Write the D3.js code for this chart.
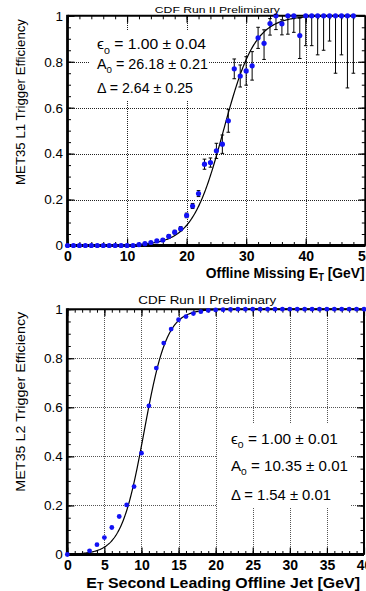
<!DOCTYPE html>
<html>
<head>
<meta charset="utf-8">
<script src="https://cdn.jsdelivr.net/npm/d3@7"></script>
<style>
  html, body { margin: 0; padding: 0; background: #fff; }
  svg { display: block; font-family: "Liberation Sans", Arial, Helvetica, sans-serif; }
  text { white-space: pre; }
</style>
</head>
<body>
<svg id="chart" width="366" height="591"></svg>
<script>
// ---- L1 panel: efficiency vs offline missing ET ----
const l1Et = [0, 1, 2, 3, 4, 5, 6, 7, 8, 9, 10, 11, 12, 13, 14, 15, 16, 17, 18, 19, 20, 21, 22, 23, 24,
  25, 26, 27, 28, 29, 30, 31, 32, 33, 34, 35, 36, 37, 38, 39, 40, 41, 42, 43, 44, 45, 46, 47, 48];
const l1Eff = [0, 0, 0, 0, 0, 0, 0, 0, 0, 0, 0, 0, 0.004, 0.008, 0.013, 0.02, 0.024, 0.04, 0.058, 0.073,
  0.131, 0.172, 0.226, 0.354, 0.361, 0.412, 0.441, 0.543, 0.769, 0.738, 0.76, 0.782, 0.904, 0.88, 0.966,
  1, 0.965, 1, 1, 0.914, 1, 1, 1, 1, 1, 1, 1, 1, 1];
const l1ErrLo = [0, 0, 0, 0, 0, 0, 0, 0, 0, 0, 0, 0, 0.002, 0.003, 0.004, 0.005, 0.006, 0.007, 0.008, 0.009,
  0.01, 0.011, 0.013, 0.022, 0.02, 0.033, 0.04, 0.05, 0.043, 0.048, 0.062, 0.062, 0.046, 0.07, 0.05,
  0.06, 0.048, 0.08, 0.072, 0.1, 0.13, 0.13, 0.17, 0.15, 0.11, 0.25, 0.17, 0.314, 0.25];
const l1ErrHi = [0, 0, 0, 0, 0, 0, 0, 0, 0, 0, 0, 0, 0.002, 0.003, 0.004, 0.005, 0.006, 0.007, 0.008, 0.009,
  0.01, 0.011, 0.013, 0.022, 0.02, 0.033, 0.04, 0.05, 0.043, 0.048, 0.062, 0.062, 0.046, 0.059, 0.022,
  0, 0.018, 0, 0, 0.076, 0, 0, 0, 0, 0, 0, 0, 0, 0];
// fit parameters: eps0, A0, Delta
const l1Fit = [1.00, 26.18, 2.64];
const l1FitText = [['1.00', '0.04'], ['26.18', '0.21'], ['2.64', '0.25']];

// ---- L2 panel: efficiency vs ET of second leading offline jet ----
const l2Et = [0, 3, 4, 5, 6, 7, 8, 9, 10, 11, 12, 13, 14, 15, 16, 17, 18, 19, 20, 21, 22, 23, 24, 25,
  26, 27, 28, 29, 30, 31, 32, 33, 34, 35, 36, 37, 38, 39, 40];
const l2Eff = [0, 0.015, 0.04, 0.069, 0.11, 0.155, 0.202, 0.277, 0.413, 0.606, 0.76, 0.862, 0.919, 0.957,
  0.97, 0.982, 0.99, 0.995, 0.997, 0.998, 0.999, 1, 1, 1, 1, 1, 1, 1, 1, 1, 1, 1, 1, 1, 1, 1, 1, 1, 1];
const l2Fit = [1.00, 10.35, 1.54];
const l2FitText = [['1.00', '0.01'], ['10.35', '0.01'], ['1.54', '0.01']];

const yTicks = [0, 0.2, 0.4, 0.6, 0.8, 1];
const yGrid = [0.2, 0.4, 0.6, 0.8];
const l1XTicks = [0, 10, 20, 30, 40, 50];
const l1XGrid = [10, 20, 30, 40];
const l2XTicks = [0, 5, 10, 15, 20, 25, 30, 35, 40];
const l2XGrid = [5, 10, 15, 20, 25, 30, 35];

const svg = d3.select('#chart');

function addText(parent, o) {
  const t = parent.append('text')
    .attr('text-anchor', o.anchor || 'start')
    .attr('font-size', o.size)
    .attr('font-weight', o.weight || 'normal')
    .attr('fill', '#000');
  const shift = o.subShift || 0.3;
  o.parts.forEach(([s, sub], i) => {
    const prevSub = i > 0 && o.parts[i - 1][1];
    t.append('tspan')
      .attr('dy', sub ? o.size * shift : (prevSub ? -o.size * shift : 0))
      .attr('font-size', sub ? o.size * 0.68 : null)
      .text(s);
  });
  let k = 1;
  if (o.width) k = o.width / t.node().getComputedTextLength();
  t.attr('transform', `translate(${o.x},${o.y})` + (o.rotate ? ` rotate(${o.rotate})` : '') + ` scale(${k},1)`);
  return t;
}

function drawPanel(p) {
  const x = d3.scaleLinear().domain(p.xDomain).range([p.left, p.right]);
  const y = d3.scaleLinear().domain([0, 1]).range([p.bottom, p.top]);
  const w = p.right - p.left;
  const h = p.bottom - p.top;
  const g = svg.append('g');

  // Grid lines
  g.append('g')
    .attr('transform', `translate(0,${p.bottom})`)
    .call(d3.axisBottom(x).tickValues(p.xGrid).tickSize(-h).tickFormat(''))
    .call(s => s.select('.domain').remove())
    .selectAll('line')
    .attr('stroke', p.gridColor)
    .attr('shape-rendering', 'crispEdges')
    .attr('stroke-dasharray', '1,1');
  g.append('g')
    .attr('transform', `translate(${p.left},0)`)
    .call(d3.axisLeft(y).tickValues(yGrid).tickSize(-w).tickFormat(''))
    .call(s => s.select('.domain').remove())
    .selectAll('line')
    .attr('stroke', p.gridColor)
    .attr('shape-rendering', 'crispEdges')
    .attr('stroke-dasharray', '1,1');

  // Fit result box
  g.append('rect')
    .attr('x', p.box[0]).attr('y', p.box[1])
    .attr('width', p.box[2]).attr('height', p.box[3])
    .attr('fill', '#fff');

  // Ticks on all four sides, pointing inward
  const sides = [
    [d3.axisBottom(x), `translate(0,${p.bottom})`, x.ticks(p.xMinorCount), p.xTicks],
    [d3.axisTop(x), `translate(0,${p.top})`, x.ticks(p.xMinorCount), p.xTicks],
    [d3.axisLeft(y), `translate(${p.left},0)`, y.ticks(20), yTicks],
    [d3.axisRight(y), `translate(${p.right},0)`, y.ticks(20), yTicks]
  ];
  sides.forEach(([axis, tr, minor, major]) => {
    g.append('g').attr('transform', tr)
      .call(axis.tickValues(minor).tickSize(-3.5).tickFormat(''))
      .call(s => s.select('.domain').remove())
      .selectAll('line').attr('stroke', '#000');
    g.append('g').attr('transform', tr)
      .call(axis.tickValues(major).tickSize(-7).tickFormat(''))
      .call(s => s.select('.domain').remove())
      .selectAll('line').attr('stroke', '#000').attr('stroke-width', 1.2);
  });

  // Frame
  g.append('line').attr('x1', p.left).attr('x2', p.right).attr('y1', p.top).attr('y2', p.top)
    .attr('stroke', '#000').attr('stroke-width', 2);
  g.append('line').attr('x1', p.right).attr('x2', p.right).attr('y1', p.top).attr('y2', p.bottom)
    .attr('stroke', '#000').attr('stroke-width', 2);
  g.append('line').attr('x1', p.left).attr('x2', p.left).attr('y1', p.top - 1).attr('y2', p.bottom + 1.5)
    .attr('stroke', '#000').attr('stroke-width', 2.8);
  g.append('line').attr('x1', p.left).attr('x2', p.right).attr('y1', p.bottom).attr('y2', p.bottom)
    .attr('stroke', '#000').attr('stroke-width', 2.8);

  // Tick labels
  g.append('g')
    .attr('transform', `translate(${p.left},0)`)
    .call(d3.axisLeft(y).tickValues(yTicks).tickSize(0).tickPadding(4.5).tickFormat(d3.format('~g')))
    .call(s => s.select('.domain').remove())
    .selectAll('text')
    .attr('font-size', 13.5)
    .attr('font-family', null)
    .attr('fill', '#000');
  g.append('g')
    .attr('transform', `translate(0,${p.bottom})`)
    .call(d3.axisBottom(x).tickValues(p.xTicks).tickSize(0).tickPadding(p.xPad))
    .call(s => s.select('.domain').remove())
    .selectAll('text')
    .attr('font-size', p.xTickSize)
    .attr('font-weight', 'bold')
    .attr('font-family', null)
    .attr('fill', '#000');

  // Fit curve
  const [eps0, a0, delta] = p.fit;
  const xs = d3.range(p.xDomain[0], p.xDomain[1] + 0.01, 0.1);
  g.append('path')
    .datum(xs)
    .attr('fill', 'none')
    .attr('stroke', '#000')
    .attr('stroke-width', 1.2)
    .attr('d', d3.line()
      .x(d => x(d))
      .y(d => y(eps0 / (1 + Math.exp(-(d - a0) / delta)))));

  // Error bars
  if (p.errLo) {
    const eb = g.append('g').attr('stroke', '#000').attr('stroke-width', 1);
    p.xs.forEach((xv, i) => {
      const lo = p.ys[i] - p.errLo[i];
      const hi = p.ys[i] + p.errHi[i];
      if (hi - lo <= 0) return;
      eb.append('line').attr('x1', x(xv)).attr('x2', x(xv)).attr('y1', y(lo)).attr('y2', y(hi));
      eb.append('line').attr('x1', x(xv) - 1.8).attr('x2', x(xv) + 1.8).attr('y1', y(lo)).attr('y2', y(lo));
      if (p.errHi[i] > 0) {
        eb.append('line').attr('x1', x(xv) - 1.8).attr('x2', x(xv) + 1.8).attr('y1', y(hi)).attr('y2', y(hi));
      }
    });
  }

  // Points
  g.selectAll('.pt')
    .data(p.xs)
    .enter()
    .append('circle')
    .attr('class', 'pt')
    .attr('cx', d => x(d))
    .attr('cy', (d, i) => y(p.ys[i]))
    .attr('r', p.r)
    .attr('fill', '#1212f4');

  // Texts
  addText(g, { x: p.title[0], y: p.title[1], anchor: 'middle', size: p.title[2], width: p.title[3],
    parts: [['CDF Run II Preliminary']] });
  addText(g, { x: p.yLabel[0], y: p.yLabel[1], anchor: 'end', size: 13, width: p.yLabel[2], rotate: -90,
    parts: [[p.yLabel[3]]] });
  addText(g, { x: p.xLabel[0], y: p.xLabel[1], anchor: 'end', size: p.xLabel[2], weight: 'bold',
    width: p.xLabel[3], subShift: p.xLabel[5], parts: p.xLabel[4] });

  const rows = [
    [['\u03f5'], ['0', true], [' = ' + p.fitText[0][0] + ' \u00b1 ' + p.fitText[0][1]]],
    [['A'], ['0', true], [' = ' + p.fitText[1][0] + ' \u00b1 ' + p.fitText[1][1]]],
    [['\u0394 = ' + p.fitText[2][0] + ' \u00b1 ' + p.fitText[2][1]]]
  ];
  rows.forEach((parts, i) => {
    addText(g, { x: p.fitPos[0], y: p.fitPos[1][i], size: 14, width: p.fitPos[2][i], parts });
  });
}

drawPanel({
  left: 67.5, right: 365.3, top: 15.8, bottom: 245.5,
  xDomain: [0, 50], xTicks: l1XTicks, xGrid: l1XGrid, xMinorCount: 25,
  xPad: 6, xTickSize: 14, gridColor: '#222',
  box: [90, 31, 119, 69],
  fit: l1Fit, fitText: l1FitText,
  xs: l1Et, ys: l1Eff, errLo: l1ErrLo, errHi: l1ErrHi, r: 2.6,
  title: [217.3, 12.5, 9.5, 125],
  yLabel: [25, 19, 166, 'MET35 L1 Trigger Efficiency'],
  xLabel: [364.7, 277.7, 15, 159, [['Offline Missing E'], ['T', true], [' [GeV]']], 0.22],
  fitPos: [97, [49.3, 69, 92.5], [109, 111, 96]]
});

drawPanel({
  left: 67.3, right: 364, top: 309.2, bottom: 554.5,
  xDomain: [0, 40], xTicks: l2XTicks, xGrid: l2XGrid, xMinorCount: 40,
  xPad: 6, xTickSize: 14, gridColor: '#555',
  box: [217, 423, 133, 85],
  fit: l2Fit, fitText: l2FitText,
  xs: l2Et, ys: l2Eff, r: 2.4,
  title: [207.3, 303.5, 10, 138],
  yLabel: [25, 311.7, 180, 'MET35 L2 Trigger Efficiency'],
  xLabel: [360, 588, 15.5, 274, [['E'], ['T', true], [' Second Leading Offline Jet [GeV]']], 0.15],
  fitPos: [231, [444, 471, 500], [107, 117, 100]]
});
</script>
</body>
</html>
